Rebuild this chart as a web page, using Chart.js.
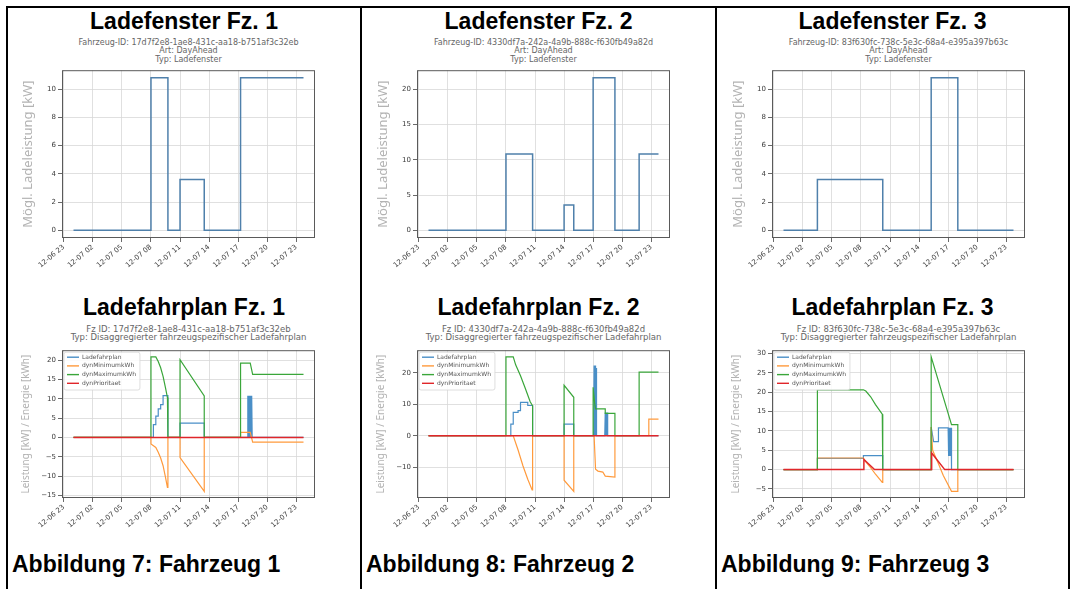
<!DOCTYPE html>
<html lang="de">
<head>
<meta charset="utf-8">
<title>Ladefenster und Ladefahrplan</title>
<script src="https://cdn.jsdelivr.net/npm/chart.js@4.4.1/dist/chart.umd.min.js"></script>
<style>
  html, body { margin: 0; padding: 0; background: #fff; }
  body { width: 1071px; height: 589px; position: relative; overflow: hidden; font-family: "Liberation Sans", Arial, sans-serif; }
  .rule { position: absolute; background: #000; }
  .title { position: absolute; text-align: center; font-weight: bold; font-size: 23px; line-height: 23px; color: #000; white-space: nowrap; }
  .caption { position: absolute; font-weight: bold; font-size: 23px; line-height: 23px; color: #000; white-space: nowrap; }
  .sub { position: absolute; width: 320px; text-align: center; font-family: "DejaVu Sans", sans-serif; color: #666; white-space: nowrap; }
  canvas { position: absolute; }
</style>
</head>
<body>
<script>
// ---- Daten (Stunden ab 12-07 00:00) ----
const xTickHours = [-1, 2, 5, 8, 11, 14, 17, 20, 23];
const xTickLabels = ['12-06 23', '12-07 02', '12-07 05', '12-07 08', '12-07 11', '12-07 14', '12-07 17', '12-07 20', '12-07 23'];

const fahrzeugIds = [
  '17d7f2e8-1ae8-431c-aa18-b751af3c32eb',
  '4330df7a-242a-4a9b-888c-f630fb49a82d',
  '83f630fc-738c-5e3c-68a4-e395a397b63c'
];
const seriesNames = ['Ladefahrplan', 'dynMinimumkWh', 'dynMaximumkWh', 'dynPrioritaet'];

// Ladefenster [Stunde, kW] (Stufen)
const fenster1 = [[0, 0], [8, 10.8], [9.75, 0], [11, 3.6], [13.5, 0], [17.25, 10.8], [23.75, 10.8]];
const fenster2 = [[0, 0], [8, 10.8], [10.75, 0], [14, 3.6], [15, 0], [17, 21.6], [19.25, 0], [21.75, 10.8], [23.75, 10.8]];
const fenster3 = [[0, 0], [3.5, 3.6], [10.25, 0], [15.25, 10.8], [18, 0], [23.75, 0]];
const fensterTicks1 = [0, 2, 4, 6, 8, 10];
const fensterTicks2 = [0, 5, 10, 15, 20];
const fensterTicks3 = [0, 2, 4, 6, 8, 10];

// Ladefahrplan Fz. 1
const plan1 = [[0, 0], [8.25, 0], [8.25, 3.3], [8.5, 3.3], [8.5, 5.5], [8.75, 5.5], [8.75, 7.4], [9, 7.4], [9, 8.5], [9.25, 8.5], [9.25, 10.8], [9.75, 10.8], [9.75, 0],
  [11, 0], [11, 3.7], [13.5, 3.7], [13.5, 0], [18, 0], [18, 10.8], [18.05, 0], [18.1, 10.8], [18.15, 0], [18.2, 10.8], [18.25, 0], [18.3, 10.8], [18.35, 0], [18.4, 10.8], [18.45, 0], [23.75, 0]];
const min1 = [[0, 0], [8, 0], [8, -1.7], [8.5, -2.6], [8.75, -3.8], [9, -5.3], [9.25, -7.3], [9.5, -10.3], [9.7, -12.9], [9.75, 0],
  [11, 0], [11, -5.2], [13.5, -13.9], [13.5, 0], [17.25, 0], [17.25, 1.3], [18.25, 1.3], [18.5, -1.2], [23.75, -1.2]];
const max1 = [[0, 0], [8, 0], [8, 20.8], [8.5, 20.8], [8.75, 19.6], [9, 18], [9.25, 15.8], [9.5, 12.8], [9.7, 10.3], [9.75, 0],
  [11, 0], [11, 20.1], [13.5, 10.7], [13.5, 0], [17.25, 0], [17.25, 19.2], [18.25, 19.2], [18.5, 16.3], [23.75, 16.3]];
const prio1 = [[0, 0], [23.75, 0]];
const planTicks1 = [-15, -10, -5, 0, 5, 10, 15, 20];

// Ladefahrplan Fz. 2
const plan2 = [[0, 0], [8.5, 0], [8.5, 3.7], [8.75, 3.7], [8.75, 7.4], [9.25, 7.4], [9.25, 8], [9.5, 8], [9.5, 10.6], [10.25, 10.6], [10.25, 9.6], [10.75, 9.6], [10.75, 0],
  [14, 0], [14, 3.7], [15, 3.7], [15, 0], [17.05, 0], [17.1, 22.3], [17.15, 0], [17.2, 22.3], [17.25, 0], [17.3, 21.5], [17.35, 0],
  [18.2, 0], [18.25, 7.4], [18.3, 0], [18.35, 7.4], [18.4, 0], [18.45, 7.4], [18.5, 0], [23.75, 0]];
const min2 = [[0, 0], [8.75, 0], [9.25, -4.5], [9.75, -9.5], [10.25, -13.8], [10.7, -17.2], [10.75, 0],
  [14, 0], [14, -14.1], [15, -17.6], [15, 0], [17.1, 0], [17.25, -10.6], [17.5, -11.2], [18, -11.5], [18.25, -12.8], [19.25, -13.1], [19.25, 0],
  [22.75, 0], [22.75, 5.3], [23.75, 5.3]];
const max2 = [[0, 0], [8, 0], [8, 25], [8.75, 25], [9, 22.5], [9.5, 19], [10, 15], [10.5, 10.8], [10.75, 9.5], [10.75, 0],
  [14, 0], [14, 16], [15, 12.2], [15, 0], [17, 0], [17, 15.4], [17.15, 10.5], [17.25, 8.5], [18.25, 8.5], [18.25, 7.1], [19.25, 7.1], [19.25, 0],
  [21.75, 0], [21.75, 20.2], [23.75, 20.2]];
const prio2 = [[0, 0], [23.75, 0]];
const planTicks2 = [-10, 0, 10, 20];

// Ladefahrplan Fz. 3
const plan3 = [[0, 0], [3.5, 0], [3.5, 2.9], [8.25, 2.9], [8.25, 3.6], [10.25, 3.6], [10.25, 0],
  [15.25, 0], [15.25, 11], [15.5, 7.2], [16, 7.2], [16, 10.8], [17, 10.8], [17.05, 3.5], [17.1, 10.8], [17.15, 3.5], [17.2, 10.8], [17.25, 3.5], [17.3, 10.8], [17.35, 0], [23.75, 0]];
const min3 = [[0, 0], [3.5, 0], [3.5, 3], [8.25, 3], [8.5, 2], [9, 0.5], [9.5, -1.2], [10.2, -3.3], [10.25, 0],
  [15.25, 0], [15.25, 11], [15.4, 5], [16, 1.5], [16.5, -1.5], [17.35, -5.6], [18, -5.6], [18, 0], [23.75, 0]];
const max3 = [[0, 0], [3.5, 0], [3.5, 20.6], [8.25, 20.6], [8.5, 20.3], [9, 18.8], [9.5, 16.8], [10.2, 14.3], [10.25, 0],
  [15.25, 0], [15.25, 29.1], [17.35, 11.6], [18, 11.6], [18, 0], [23.75, 0]];
const prio3 = [[0, 0], [8.25, 0], [8.3, 2.6], [9.4, 0], [15.25, 0], [15.3, 4.3], [16.65, 0], [23.75, 0]];
const planTicks3 = [-5, 0, 5, 10, 15, 20, 25, 30];

// ---- Aufbau ----
const fahrzeuge = [
  { fenster: fenster1, fensterTicks: fensterTicks1, series: [plan1, min1, max1, prio1], planTicks: planTicks1, abb: 7 },
  { fenster: fenster2, fensterTicks: fensterTicks2, series: [plan2, min2, max2, prio2], planTicks: planTicks2, abb: 8 },
  { fenster: fenster3, fensterTicks: fensterTicks3, series: [plan3, min3, max3, prio3], planTicks: planTicks3, abb: 9 }
];
const colOffsets = [0, 355, 710];
const cells = [[8, 360], [362, 715], [717, 1068]];
const lineColors = ['#4a8fc7', '#ff9a3c', '#3aa63a', '#e0262a'];
const drawOrder = [3, 2, 1, 0];

function el(tag, cls, style, text) {
  const e = document.createElement(tag);
  if (cls) e.className = cls;
  Object.assign(e.style, style);
  if (text) e.innerHTML = text;
  document.body.appendChild(e);
  return e;
}

// Tabellenlinien
[[6, 6, 1064, 2], [6, 6, 2, 583], [360, 6, 2, 583], [715, 6, 2, 583], [1068, 6, 2, 583]].forEach(([l, t, w, h]) =>
  el('div', 'rule', { left: l + 'px', top: t + 'px', width: w + 'px', height: h + 'px' }));

const framePlugin = {
  id: 'frame',
  afterDatasetsDraw(chart) {
    const { ctx, chartArea: a } = chart;
    ctx.save();
    ctx.strokeStyle = '#5a5a5a';
    ctx.lineWidth = 1;
    ctx.strokeRect(a.left + 0.5, a.top + 0.5, a.right - a.left - 1, a.bottom - a.top - 1);
    ctx.restore();
  }
};

const innerLegend = {
  id: 'innerLegend',
  afterDraw(chart) {
    if (!chart.options.plugins.innerLegend.show) return;
    const { ctx, chartArea: a } = chart;
    const sets = chart.data.datasets;
    ctx.save();
    ctx.font = '6px "DejaVu Sans"';
    let w = 0;
    sets.forEach(d => { w = Math.max(w, ctx.measureText(d.label).width); });
    const x0 = a.left + 2, y0 = a.top + 2;
    ctx.fillStyle = 'rgba(255,255,255,0.85)';
    ctx.strokeStyle = '#d6d6d6';
    ctx.lineWidth = 0.8;
    ctx.beginPath();
    ctx.roundRect(x0, y0, w + 22, sets.length * 8.7 + 3, 2);
    ctx.fill();
    ctx.stroke();
    sets.forEach((d, i) => {
      const y = y0 + 5 + i * 8.7;
      ctx.strokeStyle = d.borderColor;
      ctx.lineWidth = 1.4;
      ctx.beginPath();
      ctx.moveTo(x0 + 3, y);
      ctx.lineTo(x0 + 15, y);
      ctx.stroke();
      ctx.fillStyle = '#555';
      ctx.textBaseline = 'middle';
      ctx.fillText(d.label, x0 + 18, y);
    });
    ctx.restore();
  }
};

function limits(list) {
  const xs = [], ys = [];
  list.forEach(pts => pts.forEach(([x, y]) => { xs.push(x); ys.push(y); }));
  const x0 = Math.min(...xs), x1 = Math.max(...xs), y0 = Math.min(...ys), y1 = Math.max(...ys);
  const px = (x1 - x0) * 0.05, py = (y1 - y0) * 0.05;
  return { xMin: x0 - px, xMax: x1 + px, yMin: y0 - py, yMax: y1 + py };
}

function makeChart(left, top, height, datasets, yTicks, yTitle, yTitleSize, legend) {
  const cv = el('canvas', null, { left: left + 'px', top: top + 'px', width: '312px', height: height + 'px' });
  cv.width = 312;
  cv.height = height;
  const lim = limits(datasets.map(d => d.raw));
  const tickFont = { family: 'DejaVu Sans', size: 7 };
  const grid = { color: '#d8d8d8', lineWidth: 0.8, tickLength: 4, tickColor: '#444', tickWidth: 0.8 };
  new Chart(cv, {
    type: 'line',
    data: { datasets: datasets.map(d => ({
      label: d.label,
      data: d.raw.map(([x, y]) => ({ x, y })),
      borderColor: d.color,
      borderWidth: d.width,
      stepped: d.stepped || false,
      order: d.order,
      pointRadius: 0,
      tension: 0,
      fill: false
    })) },
    options: {
      responsive: false,
      animation: false,
      layout: { padding: { top: 6, right: 15, left: 0, bottom: 0 } },
      plugins: { legend: { display: false }, tooltip: { enabled: false }, innerLegend: { show: legend } },
      scales: {
        x: {
          type: 'linear', min: lim.xMin, max: lim.xMax,
          afterBuildTicks: s => { s.ticks = xTickHours.map(v => ({ value: v })); },
          afterFit: s => { s.height = 34; },
          ticks: { autoSkip: false, minRotation: 40, maxRotation: 40, padding: 1, color: '#3a3a3a', font: tickFont,
            callback: (v, i) => xTickLabels[i] },
          grid: grid,
          border: { display: false }
        },
        y: {
          type: 'linear', min: lim.yMin, max: lim.yMax,
          afterBuildTicks: s => { s.ticks = yTicks.map(v => ({ value: v })); },
          afterFit: s => { s.width = 44; },
          ticks: { padding: 2, color: '#3a3a3a', font: tickFont, callback: v => String(v).replace('-', '\u2212') },
          grid: grid,
          border: { display: false },
          title: { display: true, text: yTitle, color: '#b3b3b3', font: { family: 'Noto Sans', size: yTitleSize }, padding: { top: 2, bottom: 0 } }
        }
      }
    },
    plugins: [framePlugin, innerLegend]
  });
}

fahrzeuge.forEach((fz, c) => {
  const ox = colOffsets[c];
  const [cl, cr] = cells[c];
  const n = c + 1;

  el('div', 'title', { left: cl + 'px', width: (cr - cl) + 'px', top: '10px' }, 'Ladefenster Fz. ' + n);
  el('div', 'sub', { left: (ox + 188.5 - 160) + 'px', top: '38.5px', fontSize: '8px', lineHeight: '8.5px' },
    'Fahrzeug-ID: ' + fahrzeugIds[c] + '<br>Art: DayAhead<br>Typ: Ladefenster');
  makeChart(ox + 18, 64, 208, [
    { label: 'Ladefenster', raw: fz.fenster, color: '#4f80ab', width: 1.5, stepped: true, order: 0 }
  ], fz.fensterTicks, 'Mögl. Ladeleistung [kW]', 13, false);

  el('div', 'title', { left: cl + 'px', width: (cr - cl) + 'px', top: '296px' }, 'Ladefahrplan Fz. ' + n);
  el('div', 'sub', { left: (ox + 188.5 - 160) + 'px', top: '324.5px', fontSize: '8.5px', lineHeight: '8.3px' },
    'Fz ID: ' + fahrzeugIds[c] + '<br>Typ: Disaggregierter fahrzeugspezifischer Ladefahrplan');
  makeChart(ox + 18, 344, 188, fz.series.map((raw, i) => ({
    label: seriesNames[i], raw, color: lineColors[i], width: i === 3 ? 1.5 : 1.2, order: drawOrder[i]
  })), fz.planTicks, 'Leistung [kW] / Energie [kWh]', 10, true);

  el('div', 'caption', { left: (cl + 4) + 'px', top: '553px' }, 'Abbildung ' + fz.abb + ': Fahrzeug ' + n);
});
</script>
</body>
</html>
